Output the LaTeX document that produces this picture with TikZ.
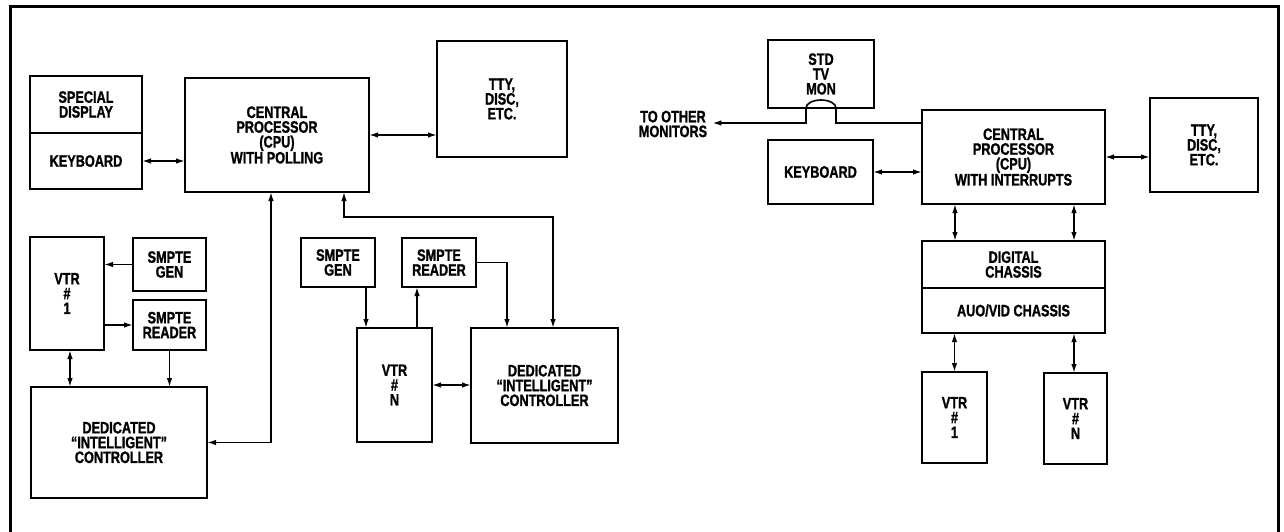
\documentclass[tikz,border=0pt]{standalone}
\usepackage{fontspec}
\setmainfont{Liberation Sans}[FakeStretch=0.77, BoldFeatures={FakeBold=1.2}]
\usetikzlibrary{arrows.meta}

\tikzset{
  blk/.style={draw, line width=1.9pt, inner sep=0pt, outer sep=0pt, align=center,
    font=\fontsize{16.5}{14.8}\selectfont\bfseries},
  txt/.style={inner sep=2pt, align=center, font=\fontsize{16.5}{14.8}\selectfont\bfseries},
  lnk/.style={line width=1.6pt},
  one/.style={lnk, -{Latex[length=9pt,width=5.5pt]}},
  two/.style={lnk, {Latex[length=9pt,width=5.5pt]}-{Latex[length=9pt,width=5.5pt]}}
}

\begin{document}
\begin{tikzpicture}[x=1pt, y=-1pt]
\useasboundingbox (0,0) rectangle (1284,532);
\draw [line width=3pt] (10,532) -- (10,7) -- (1278,7) -- (1278,532);

\node (disp) at (86,104.5) [blk, minimum width=112pt, minimum height=57pt] {SPECIAL\\DISPLAY};
\node (kbd) at (86,161) [blk, minimum width=112pt, minimum height=56pt] {KEYBOARD};
\node (cpu) at (277,135) [blk, minimum width=184pt, minimum height=114pt] {CENTRAL\\PROCESSOR\\(CPU)\\WITH POLLING};
\node (tty) at (502,99) [blk, minimum width=130pt, minimum height=116pt] {TTY,\\DISC,\\ETC.};
\node (vtra) at (67,293.5) [blk, minimum width=74pt, minimum height=113pt] {VTR\\\#\\1};
\node (gena) at (169.5,264.5) [blk, minimum width=73pt, minimum height=53pt] {SMPTE\\GEN};
\node (rdra) at (169.5,325) [blk, minimum width=73pt, minimum height=50pt] {SMPTE\\READER};
\node (ctla) at (119,442.5) [blk, minimum width=176pt, minimum height=111pt] {DEDICATED\\``INTELLIGENT''\\CONTROLLER};
\node (genb) at (338,262.5) [blk, minimum width=74pt, minimum height=49pt] {SMPTE\\GEN};
\node (rdrb) at (439,262.5) [blk, minimum width=74pt, minimum height=49pt] {SMPTE\\READER};
\node (vtrb) at (394.5,385) [blk, minimum width=75pt, minimum height=114pt] {VTR\\\#\\N};
\node (ctlb) at (544.5,385.5) [blk, minimum width=147pt, minimum height=115pt] {DEDICATED\\``INTELLIGENT''\\CONTROLLER};

\node (others) at (673,124) [txt] {TO OTHER\\MONITORS};
\node (mon) at (821,74) [blk, minimum width=106pt, minimum height=68pt] {STD\\TV\\MON};
\node (kbdr) at (820.5,172) [blk, minimum width=105pt, minimum height=64pt] {KEYBOARD};
\node (cpur) at (1013.5,157) [blk, minimum width=183pt, minimum height=94pt] {CENTRAL\\PROCESSOR\\(CPU)\\WITH INTERRUPTS};
\node (ttyr) at (1204,145) [blk, minimum width=108pt, minimum height=94pt] {TTY,\\DISC,\\ETC.};
\node (dig) at (1013.5,264.5) [blk, minimum width=183pt, minimum height=47pt] {DIGITAL\\CHASSIS};
\node (av) at (1013.5,310.5) [blk, minimum width=183pt, minimum height=45pt] {AUO/VID CHASSIS};
\node (vtrc) at (954.5,417.5) [blk, minimum width=65pt, minimum height=91pt] {VTR\\\#\\1};
\node (vtrd) at (1075.5,418.5) [blk, minimum width=63pt, minimum height=91pt] {VTR\\\#\\N};

\draw [two] (kbd.east) -- (kbd.east -| cpu.west);
\draw [two] (cpu.east) -- (cpu.east -| tty.west);
\draw [two] (ctla.east) -| ([xshift=-6pt]cpu.south);
\coordinate (bus) at (553,217);
\draw [two] ([xshift=67pt]cpu.south) |- (bus) -- (bus |- ctlb.north);
\draw [one] (gena.west) -- (gena.west -| vtra.east);
\draw [one] (rdra.west -| vtra.east) -- (rdra.west);
\draw [two] ([xshift=3pt]vtra.south) -- ([xshift=3pt]vtra.south |- ctla.north);
\draw [one] (rdra.south) -- (rdra.south |- ctla.north);
\draw [one] ([xshift=-28.5pt]vtrb.north |- genb.south) -- ([xshift=-28.5pt]vtrb.north);
\draw [one] ([xshift=22.5pt]vtrb.north) -- ([xshift=22.5pt]vtrb.north |- rdrb.south);
\draw [one] (rdrb.east) -| ([xshift=-37.5pt]ctlb.north);
\draw [two] (vtrb.east) -- (vtrb.east -| ctlb.west);

\coordinate (tap) at ([yshift=34pt]cpur.west);
\draw [one] (tap) -- ([xshift=15pt]mon.south |- tap) -- ([xshift=15pt]mon.south)
  arc [start angle=0, end angle=180, x radius=15pt, y radius=8pt]
  -- ([xshift=-15pt]mon.south |- tap) -- ([xshift=3pt]others.east |- tap);
\draw [two] (kbdr.east) -- (kbdr.east -| cpur.west);
\draw [two] (cpur.east) -- (cpur.east -| ttyr.west);
\draw [two] ([xshift=-58.5pt]cpur.south) -- ([xshift=-58.5pt]cpur.south |- dig.north);
\draw [two] ([xshift=60.5pt]cpur.south) -- ([xshift=60.5pt]cpur.south |- dig.north);
\draw [two] (vtrc.north |- av.south) -- (vtrc.north);
\draw [two] ([xshift=-1.5pt]vtrd.north |- av.south) -- ([xshift=-1.5pt]vtrd.north);
\end{tikzpicture}
\end{document}
